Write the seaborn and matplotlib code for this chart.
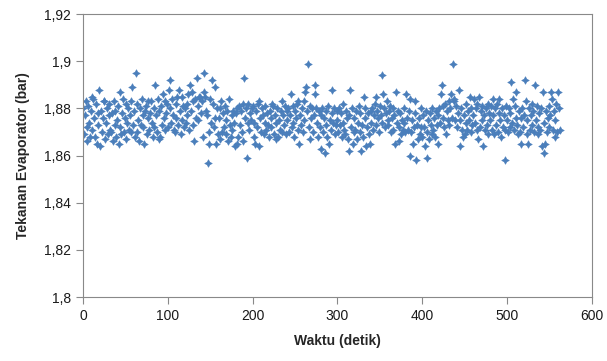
import numpy as np
import pandas as pd
import seaborn as sns
from matplotlib import pyplot as plt
from matplotlib.ticker import FuncFormatter, MultipleLocator

# waktu (detik), one sample per second
waktu = np.arange(0, 563)

# tekanan evaporator (bar)
tekanan = [
    1.880, 1.869, 1.877, 1.883, 1.872, 1.866, 1.881, 1.874, 1.868, 1.879,
    1.885, 1.871, 1.884, 1.876, 1.868, 1.882, 1.865, 1.873, 1.878, 1.888,
    1.864, 1.879, 1.870, 1.876, 1.883, 1.883, 1.867, 1.874, 1.880, 1.869,
    1.877, 1.882, 1.871, 1.870, 1.878, 1.866, 1.883, 1.873, 1.879, 1.868,
    1.875, 1.881, 1.865, 1.887, 1.872, 1.869, 1.878, 1.884, 1.870, 1.876,
    1.867, 1.882, 1.874, 1.880, 1.871, 1.877, 1.870, 1.883, 1.889, 1.873,
    1.879, 1.868, 1.895, 1.870, 1.882, 1.875, 1.866, 1.880, 1.873, 1.884,
    1.877, 1.872, 1.865, 1.879, 1.881, 1.869, 1.876, 1.883, 1.871, 1.878,
    1.883, 1.874, 1.868, 1.880, 1.872, 1.890, 1.877, 1.870, 1.884, 1.867,
    1.879, 1.868, 1.881, 1.873, 1.886, 1.876, 1.871, 1.883, 1.878, 1.882,
    1.872, 1.888, 1.892, 1.880, 1.874, 1.884, 1.877, 1.871, 1.870, 1.882,
    1.876, 1.885, 1.873, 1.888, 1.879, 1.869, 1.885, 1.875, 1.881, 1.872,
    1.880, 1.874, 1.882, 1.877, 1.886, 1.871, 1.890, 1.879, 1.887, 1.873,
    1.883, 1.866, 1.884, 1.876, 1.893, 1.881, 1.875, 1.885, 1.885, 1.878,
    1.883, 1.868, 1.887, 1.895, 1.885, 1.879, 1.877, 1.857, 1.870, 1.865,
    1.884, 1.874, 1.892, 1.882, 1.872, 1.889, 1.876, 1.865, 1.880, 1.869,
    1.876, 1.867, 1.880, 1.883, 1.870, 1.878, 1.872, 1.881, 1.869, 1.875,
    1.879, 1.866, 1.884, 1.873, 1.868, 1.877, 1.871, 1.879, 1.874, 1.864,
    1.878, 1.880, 1.865, 1.868, 1.881, 1.873, 1.879, 1.870, 1.882, 1.866,
    1.893, 1.876, 1.880, 1.859, 1.874, 1.882, 1.871, 1.878, 1.875, 1.880,
    1.881, 1.868, 1.874, 1.865, 1.879, 1.872, 1.882, 1.864, 1.883, 1.876,
    1.870, 1.880, 1.877, 1.869, 1.874, 1.881, 1.871, 1.878, 1.873, 1.868,
    1.879, 1.872, 1.876, 1.882, 1.881, 1.869, 1.877, 1.874, 1.867, 1.880,
    1.868, 1.875, 1.871, 1.879, 1.870, 1.883, 1.877, 1.873, 1.881, 1.869,
    1.875, 1.879, 1.880, 1.870, 1.877, 1.886, 1.872, 1.881, 1.874, 1.868,
    1.879, 1.876, 1.882, 1.871, 1.883, 1.865, 1.877, 1.873, 1.880, 1.870,
    1.883, 1.875, 1.887, 1.889, 1.879, 1.899, 1.872, 1.867, 1.881, 1.876,
    1.880, 1.870, 1.877, 1.890, 1.886, 1.880, 1.874, 1.868, 1.879, 1.872,
    1.877, 1.863, 1.880, 1.870, 1.876, 1.861, 1.873, 1.879, 1.868, 1.881,
    1.865, 1.875, 1.871, 1.888, 1.878, 1.874, 1.880, 1.869, 1.873, 1.879,
    1.875, 1.870, 1.880, 1.873, 1.878, 1.868, 1.882, 1.874, 1.871, 1.869,
    1.879, 1.876, 1.867, 1.862, 1.877, 1.888, 1.872, 1.880, 1.865, 1.870,
    1.876, 1.871, 1.879, 1.867, 1.874, 1.881, 1.870, 1.878, 1.862, 1.873,
    1.868, 1.885, 1.876, 1.880, 1.864, 1.872, 1.878, 1.869, 1.865, 1.879,
    1.874, 1.880, 1.871, 1.877, 1.882, 1.873, 1.885, 1.879, 1.876, 1.870,
    1.881, 1.877, 1.894, 1.874, 1.886, 1.880, 1.872, 1.878, 1.883, 1.875,
    1.873, 1.879, 1.881, 1.870, 1.876, 1.880, 1.871, 1.877, 1.865, 1.887,
    1.874, 1.879, 1.866, 1.872, 1.878, 1.869, 1.875, 1.871, 1.880, 1.874,
    1.870, 1.886, 1.876, 1.871, 1.879, 1.884, 1.860, 1.870, 1.875, 1.865,
    1.872, 1.878, 1.883, 1.858, 1.873, 1.867, 1.876, 1.869, 1.880, 1.872,
    1.868, 1.877, 1.872, 1.864, 1.879, 1.859, 1.870, 1.875, 1.867, 1.878,
    1.873, 1.869, 1.880, 1.871, 1.876, 1.868, 1.879, 1.873, 1.877, 1.865,
    1.880, 1.874, 1.886, 1.890, 1.876, 1.881, 1.872, 1.882, 1.869, 1.879,
    1.875, 1.883, 1.873, 1.880, 1.886, 1.876, 1.899, 1.883, 1.884, 1.875,
    1.881, 1.872, 1.878, 1.888, 1.875, 1.864, 1.880, 1.871, 1.868, 1.877,
    1.869, 1.874, 1.882, 1.871, 1.879, 1.875, 1.885, 1.870, 1.880, 1.873,
    1.877, 1.884, 1.874, 1.880, 1.871, 1.882, 1.867, 1.885, 1.872, 1.879,
    1.875, 1.881, 1.864, 1.877, 1.871, 1.880, 1.873, 1.882, 1.869, 1.878,
    1.875, 1.881, 1.871, 1.884, 1.877, 1.869, 1.880, 1.873, 1.882, 1.870,
    1.878, 1.884, 1.875, 1.868, 1.880, 1.872, 1.877, 1.871, 1.858, 1.881,
    1.875, 1.870, 1.880, 1.872, 1.878, 1.891, 1.874, 1.884, 1.871, 1.881,
    1.876, 1.887, 1.873, 1.869, 1.879, 1.870, 1.876, 1.865, 1.880, 1.872,
    1.877, 1.892, 1.883, 1.869, 1.875, 1.865, 1.880, 1.871, 1.877, 1.882,
    1.873, 1.879, 1.870, 1.890, 1.875, 1.881, 1.872, 1.869, 1.878, 1.871,
    1.880, 1.864, 1.887, 1.861, 1.874, 1.865, 1.879, 1.870, 1.876, 1.881,
    1.872, 1.877, 1.887, 1.884, 1.871, 1.879, 1.868, 1.875, 1.882, 1.870,
    1.887, 1.880, 1.871,
]

df = pd.DataFrame({'Waktu (detik)': waktu, 'Tekanan Evaporator (bar)': tekanan})

sns.set_style('white')
plt.rcParams['font.family'] = ['Liberation Sans', 'DejaVu Sans']

fig = plt.figure(figsize=(6.07, 3.61), dpi=100)
ax = fig.add_axes([0.137, 0.177, 0.838, 0.784])

sns.scatterplot(data=df, x='Waktu (detik)', y='Tekanan Evaporator (bar)', ax=ax,
                marker=(4, 1, 0), s=30, color='#4A7EBB', edgecolor='#4A7EBB',
                linewidth=0.4)

ax.set_xlim(0, 600)
ax.set_ylim(1.8, 1.92)
ax.xaxis.set_major_locator(MultipleLocator(100))
ax.yaxis.set_major_locator(MultipleLocator(0.02))
ax.yaxis.set_major_formatter(FuncFormatter(lambda v, p: f'{round(v, 2):g}'.replace('.', ',')))

for side in ax.spines.values():
    side.set_color('#898989')
    side.set_linewidth(0.8)
ax.tick_params(direction='out', length=5, width=0.8, color='#898989',
               labelsize=10, labelcolor='#1a1a1a', left=True, bottom=True)

ax.set_xlabel('Waktu (detik)', fontsize=10, fontweight='bold', labelpad=8)
ax.set_ylabel('Tekanan Evaporator (bar)', fontsize=10, fontweight='bold', labelpad=10)

fig.savefig('out.png', dpi=100)
